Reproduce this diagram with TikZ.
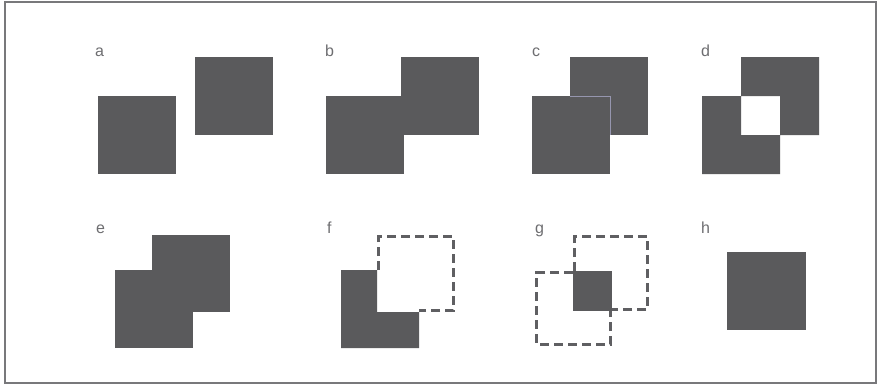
\documentclass[tikz,border=0pt]{standalone}
\usepackage{fontspec}
\setmainfont{Liberation Sans}
\definecolor{sqgray}{RGB}{90,90,92}
\definecolor{dashgray}{RGB}{95,95,98}
\definecolor{lblgray}{RGB}{110,110,113}
\definecolor{framegray}{RGB}{120,120,123}
\definecolor{edgelight}{RGB}{150,150,175}
\begin{document}
\begin{tikzpicture}[x=1pt,y=-1pt,
  sq/.style={fill=sqgray,draw=none},
  dsq/.style={draw=dashgray,line width=3pt,dash pattern=on 9pt off 5pt,line cap=butt},
  lbl/.style={anchor=base west,inner sep=0pt,text=lblgray,font=\fontsize{16}{16}\selectfont},
  framebox/.style={draw=framegray,line width=2.4pt}]
\useasboundingbox (0,0) rectangle (879,386);
\fill[white] (0,0) rectangle (879,386);
\draw[framebox] (5,2) rectangle (876,383);
% labels
\node[lbl] (la) at (95,56) {a};
\node[lbl] (lb) at (325,56) {b};
\node[lbl] (lc) at (532,56) {c};
\node[lbl] (ld) at (701,56) {d};
\node[lbl] (le) at (96,233) {e};
\node[lbl] (lf) at (327,233) {f};
\node[lbl] (lg) at (535,233) {g};
\node[lbl] (lh) at (701,233) {h};
% a
\fill[sq] (98,96) rectangle (176,174);
\fill[sq] (195,57) rectangle (273,135);
% b
\fill[sq] (326,96) rectangle (404,174);
\fill[sq] (401,57) rectangle (479,135);
% c
\fill[sq] (570,57) rectangle (648,135);
\fill[sq] (532,96) rectangle (610,174);
\draw[edgelight,line width=0.7pt] (570,96) -- (610,96) -- (610,135);
% d
\fill[sq,even odd rule] (741,57) rectangle (819,135) (702,96) rectangle (780,174);
% e
\fill[sq] (152,235) rectangle (230,312);
\fill[sq] (115,270) rectangle (193,348);
% f
\fill[sq] (341,270) -- (377,270) -- (377,312) -- (419,312) -- (419,348) -- (341,348) -- cycle;
\draw[dsq] (378.5,270) -- (378.5,236.5) -- (453.5,236.5) -- (453.5,310.5) -- (419,310.5);
% g
\fill[sq] (573,271) rectangle (612,311);
\draw[dsq] (574.5,271) -- (574.5,236.5) -- (647.5,236.5) -- (647.5,309.5) -- (612,309.5);
\draw[dsq] (573,272.5) -- (536.5,272.5) -- (536.5,344.5) -- (610.5,344.5) -- (610.5,311);
% h
\fill[sq] (727,252) rectangle (806,330);
\end{tikzpicture}
\end{document}
